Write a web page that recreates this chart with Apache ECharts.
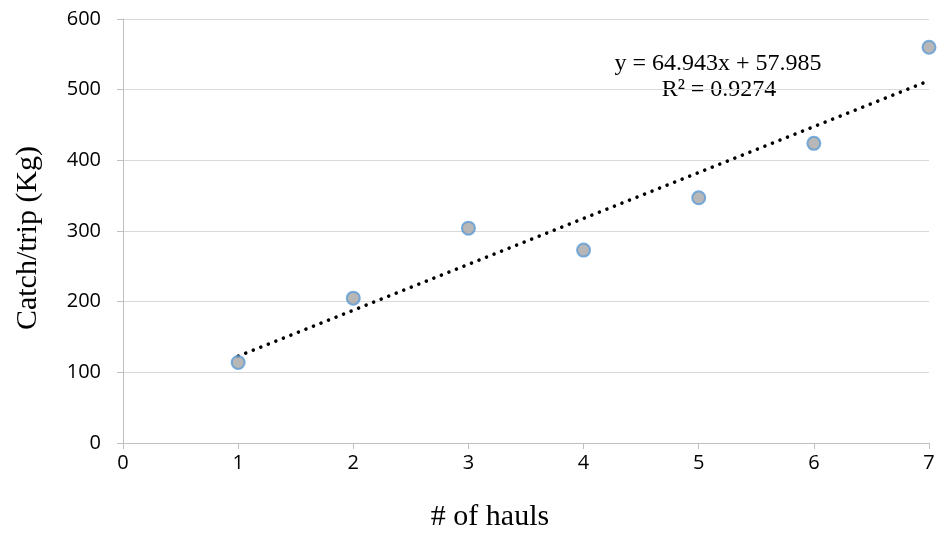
<!DOCTYPE html>
<html>
<head>
<meta charset="utf-8">
<script src="https://cdn.jsdelivr.net/npm/echarts@6/dist/echarts.min.js"></script>
<style>
  html, body { margin: 0; padding: 0; background: #fff; }
  #chart { width: 938px; height: 535px; }
</style>
</head>
<body>
<div id="chart"></div>
<script>
// data
const hauls = [1, 2, 3, 4, 5, 6, 7];
const catchPerTrip = [114, 205, 304, 273, 347, 424, 560];
// linear trendline endpoints, from y = 64.943x + 57.985
const trendX = [1, 7];
const trendY = [122.9, 512.6];
const equationLines = ["y = 64.943x + 57.985", "R² = 0.9274"];
const xTitle = "# of hauls";
const yTitle = "Catch/trip (Kg)";

const serif = "Liberation Serif";
const sans = "Open Sans";

const chart = echarts.init(document.getElementById("chart"));

chart.setOption({
  animation: false,
  grid: { left: 123, right: 9, top: 19, bottom: 92 },
  xAxis: {
    type: "value",
    min: 0,
    max: 7,
    interval: 1,
    axisLine: { show: true, lineStyle: { color: "#bfbfbf", width: 1 } },
    axisTick: { show: true, length: 6, lineStyle: { color: "#bfbfbf" } },
    axisLabel: { fontFamily: sans, fontSize: 20, color: "#000", margin: 10 },
    splitLine: { show: false },
  },
  yAxis: {
    type: "value",
    min: 0,
    max: 600,
    interval: 100,
    axisLine: { show: true, lineStyle: { color: "#bfbfbf", width: 1 } },
    axisTick: { show: true, length: 6, lineStyle: { color: "#bfbfbf" } },
    axisLabel: { fontFamily: sans, fontSize: 20, color: "#000", margin: 22 },
    splitLine: { show: true, lineStyle: { color: "#d9d9d9", width: 1 } },
  },
  series: [
    {
      name: "Trend",
      type: "line",
      data: trendX.map((x, i) => [x, trendY[i]]),
      showSymbol: false,
      symbol: "none",
      z: 2,
      lineStyle: { color: "#000", width: 3.5, type: [0.1, 8], cap: "round" },
    },
    {
      name: "Catch",
      type: "scatter",
      data: hauls.map((x, i) => [x, catchPerTrip[i]]),
      symbolSize: 13,
      z: 3,
      itemStyle: { color: "#a5a5a5", borderColor: "#5b9bd5", borderWidth: 2 },
    },
  ],
  graphic: [
    {
      type: "text",
      x: 718,
      y: 64,
      style: {
        text: equationLines[0],
        font: "24px " + serif,
        fill: "#000",
        textAlign: "center",
        textVerticalAlign: "middle",
      },
    },
    {
      type: "text",
      x: 719,
      y: 90,
      style: {
        text: equationLines[1],
        font: "24px " + serif,
        fill: "#000",
        textAlign: "center",
        textVerticalAlign: "middle",
      },
    },
    {
      type: "text",
      x: 490,
      y: 517,
      style: {
        text: xTitle,
        font: "30px " + serif,
        fill: "#000",
        textAlign: "center",
        textVerticalAlign: "middle",
      },
    },
    {
      type: "text",
      x: 28,
      y: 238,
      rotation: Math.PI / 2,
      style: {
        text: yTitle,
        font: "30px " + serif,
        fill: "#000",
        textAlign: "center",
        textVerticalAlign: "middle",
      },
    },
  ],
});
</script>
</body>
</html>
